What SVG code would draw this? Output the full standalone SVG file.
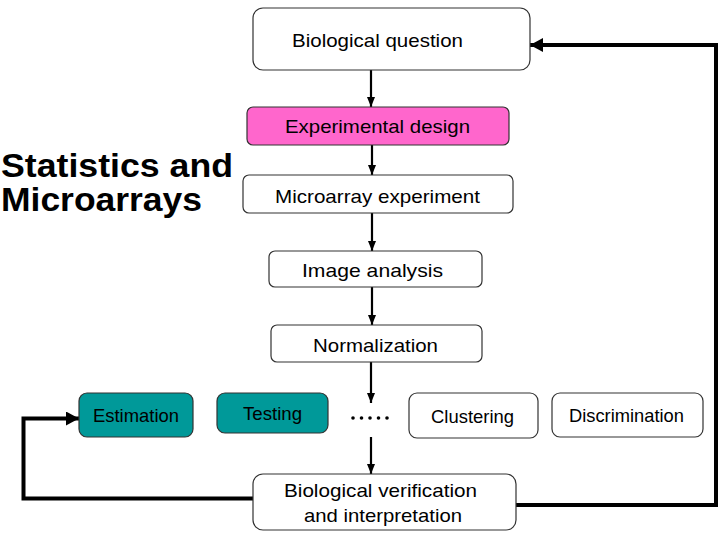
<svg xmlns="http://www.w3.org/2000/svg" width="719" height="543" viewBox="0 0 719 543">
<style>
.box{fill:#ffffff;stroke:#333333;stroke-width:1.2}
.pink{fill:#ff66cc}
.teal{fill:#009999}
.lbl{font-family:"Liberation Sans",Arial,sans-serif;font-size:19px;fill:#000000}
.title{font-family:"Liberation Sans",Arial,sans-serif;font-size:33px;font-weight:bold;fill:#000000}
.arr{stroke:#000;stroke-width:2.2;fill:none}
.fb{stroke:#000;stroke-width:4;fill:none}
</style>
<defs>
<marker id="ah" markerUnits="userSpaceOnUse" markerWidth="10" markerHeight="8" refX="10" refY="4" orient="auto"><path d="M0,0 L10,4 L0,8 z" fill="#000"/></marker>
<marker id="bh" markerUnits="userSpaceOnUse" markerWidth="13" markerHeight="14" refX="13" refY="7" orient="auto"><path d="M0,0 L13,7 L0,14 z" fill="#000"/></marker>
</defs>
<rect width="719" height="543" fill="#ffffff"/>
<g id="title">
<text class="title" x="1" y="177" textLength="232" lengthAdjust="spacingAndGlyphs">Statistics and</text>
<text class="title" x="1" y="211" textLength="201" lengthAdjust="spacingAndGlyphs">Microarrays</text>
</g>
<g id="connectors">
<line class="arr" x1="371" y1="70" x2="371" y2="107" marker-end="url(#ah)"/>
<line class="arr" x1="372" y1="145" x2="372" y2="175" marker-end="url(#ah)"/>
<line class="arr" x1="372" y1="213" x2="372" y2="251" marker-end="url(#ah)"/>
<line class="arr" x1="372" y1="287" x2="372" y2="325" marker-end="url(#ah)"/>
<line class="arr" x1="371" y1="362" x2="371" y2="403" marker-end="url(#ah)"/>
<line class="arr" x1="371" y1="437" x2="371" y2="474" marker-end="url(#ah)"/>
<path class="fb" d="M253,498.5 L23.5,498.5 L23.5,418.5 L79,418.5" marker-end="url(#bh)"/>
<path class="fb" d="M516,505 L716,505 L716,45 L530,45" marker-end="url(#bh)"/>
<g id="dots" fill="#000">
<circle cx="353" cy="418" r="1.8"/><circle cx="361.5" cy="418" r="1.8"/><circle cx="370" cy="418" r="1.8"/><circle cx="378.5" cy="418" r="1.8"/><circle cx="387" cy="418" r="1.8"/>
</g>
</g>
<g id="bio-question"><rect class="box" x="253" y="8" width="277" height="62" rx="10"/><text class="lbl" x="292" y="47" textLength="171" lengthAdjust="spacingAndGlyphs">Biological question</text></g>
<g id="exp-design"><rect class="box pink" x="247" y="107" width="262" height="38" rx="6"/><text class="lbl" x="285" y="133" textLength="185" lengthAdjust="spacingAndGlyphs">Experimental design</text></g>
<g id="microarray-exp"><rect class="box" x="243" y="175" width="270" height="38" rx="6"/><text class="lbl" x="275" y="203" textLength="205" lengthAdjust="spacingAndGlyphs">Microarray experiment</text></g>
<g id="image-analysis"><rect class="box" x="269" y="251" width="213" height="36" rx="6"/><text class="lbl" x="302" y="277" textLength="141" lengthAdjust="spacingAndGlyphs">Image analysis</text></g>
<g id="normalization"><rect class="box" x="271" y="325" width="211" height="37" rx="6"/><text class="lbl" x="313" y="352" textLength="125" lengthAdjust="spacingAndGlyphs">Normalization</text></g>
<g id="estimation"><rect class="box teal" x="79" y="393" width="114" height="44" rx="8"/><text class="lbl" x="93" y="422" textLength="86" lengthAdjust="spacingAndGlyphs">Estimation</text></g>
<g id="testing"><rect class="box teal" x="217" y="393" width="111" height="40" rx="8"/><text class="lbl" x="243" y="420" textLength="59" lengthAdjust="spacingAndGlyphs">Testing</text></g>
<g id="clustering"><rect class="box" x="409" y="393" width="129" height="45" rx="8"/><text class="lbl" x="431" y="423" textLength="83" lengthAdjust="spacingAndGlyphs">Clustering</text></g>
<g id="discrimination"><rect class="box" x="552" y="393" width="151" height="44" rx="8"/><text class="lbl" x="569" y="422" textLength="115" lengthAdjust="spacingAndGlyphs">Discrimination</text></g>
<g id="bio-verification"><rect class="box" x="253" y="474" width="263" height="56" rx="10"/><text class="lbl" x="284" y="497" textLength="193" lengthAdjust="spacingAndGlyphs">Biological verification</text><text class="lbl" x="304" y="522" textLength="158" lengthAdjust="spacingAndGlyphs">and interpretation</text></g>
</svg>
